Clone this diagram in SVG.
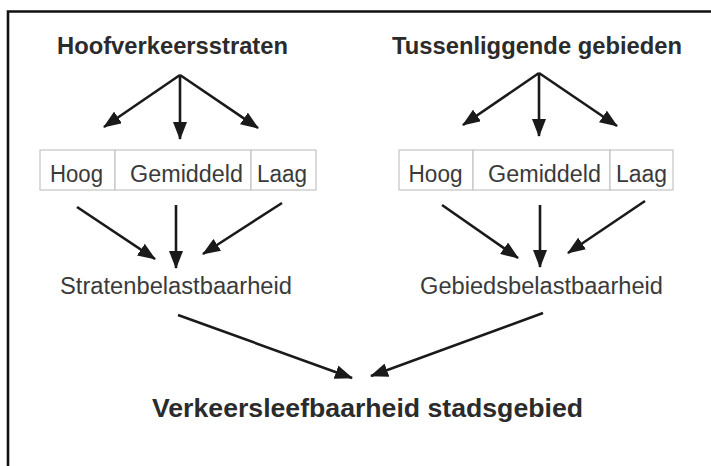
<svg xmlns="http://www.w3.org/2000/svg" width="711" height="466" viewBox="0 0 711 466">
<defs>
<marker id="ah" viewBox="0 0 18 14" refX="17" refY="7" markerWidth="18" markerHeight="14" markerUnits="userSpaceOnUse" orient="auto">
<path d="M0,0 L18,7 L0,14 Z" fill="#1a1a1a"/>
</marker>
</defs>
<style>
.title{font-family:"Liberation Sans",Arial,sans-serif;font-weight:bold;font-size:23.5px;fill:#2b2b2b;text-anchor:middle}
.lbl{font-family:"Liberation Sans",Arial,sans-serif;font-size:23px;fill:#3a3a3a;text-anchor:middle}
.cell{fill:#fff;stroke:#c4c4c4;stroke-width:1.2}
.arr{stroke:#1a1a1a;stroke-width:2.6;fill:none;marker-end:url(#ah)}
.frame{stroke:#111;stroke-width:2.6;fill:none}
</style>
<rect width="711" height="466" fill="#fff"/>
<path class="frame" d="M8,466 L8,11.5 L711,11.5"/>

<g id="hoofverkeersstraten"><text class="title" x="172.5" y="54" textLength="231" lengthAdjust="spacingAndGlyphs">Hoofverkeersstraten</text></g>
<g id="tussenliggende"><text class="title" x="537" y="54" textLength="290" lengthAdjust="spacingAndGlyphs">Tussenliggende gebieden</text></g>

<g id="box-left">
<rect class="cell" x="40" y="150" width="75" height="40"/>
<rect class="cell" x="115" y="150" width="136" height="40"/>
<rect class="cell" x="251" y="150" width="65" height="40"/>
<text class="lbl" x="76.5" y="182" textLength="53" lengthAdjust="spacingAndGlyphs">Hoog</text>
<text class="lbl" x="186.5" y="182" textLength="113" lengthAdjust="spacingAndGlyphs">Gemiddeld</text>
<text class="lbl" x="282" y="182" textLength="50" lengthAdjust="spacingAndGlyphs">Laag</text>
</g>
<g id="box-right">
<rect class="cell" x="399" y="150" width="74" height="40"/>
<rect class="cell" x="473" y="150" width="137" height="40"/>
<rect class="cell" x="610" y="150" width="63" height="40"/>
<text class="lbl" x="435.5" y="182" textLength="54" lengthAdjust="spacingAndGlyphs">Hoog</text>
<text class="lbl" x="544.5" y="182" textLength="113" lengthAdjust="spacingAndGlyphs">Gemiddeld</text>
<text class="lbl" x="641.5" y="182" textLength="51" lengthAdjust="spacingAndGlyphs">Laag</text>
</g>

<g id="stratenbelastbaarheid"><text class="lbl" x="176" y="294" textLength="232" lengthAdjust="spacingAndGlyphs">Stratenbelastbaarheid</text></g>
<g id="gebiedsbelastbaarheid"><text class="lbl" x="541.5" y="294" textLength="243" lengthAdjust="spacingAndGlyphs">Gebiedsbelastbaarheid</text></g>
<g id="verkeersleefbaarheid"><text class="title" x="367.5" y="417" style="font-size:25px" textLength="431" lengthAdjust="spacingAndGlyphs">Verkeersleefbaarheid stadsgebied</text></g>

<g id="connectors">
<path class="arr" d="M180,75 L104,127"/>
<path class="arr" d="M180,75 L180,139"/>
<path class="arr" d="M180,75 L258,128"/>
<path class="arr" d="M539,73 L463,125"/>
<path class="arr" d="M539,73 L539,136"/>
<path class="arr" d="M539,73 L617,126"/>
<path class="arr" d="M77,207 L155,259"/>
<path class="arr" d="M176,205 L176,268"/>
<path class="arr" d="M282,203 L203,254"/>
<path class="arr" d="M442,205 L518,258"/>
<path class="arr" d="M540,205 L540,267"/>
<path class="arr" d="M645,201 L568,253"/>
<path class="arr" d="M178,315 L352,378"/>
<path class="arr" d="M543,313 L371,376"/>
</g>
</svg>
